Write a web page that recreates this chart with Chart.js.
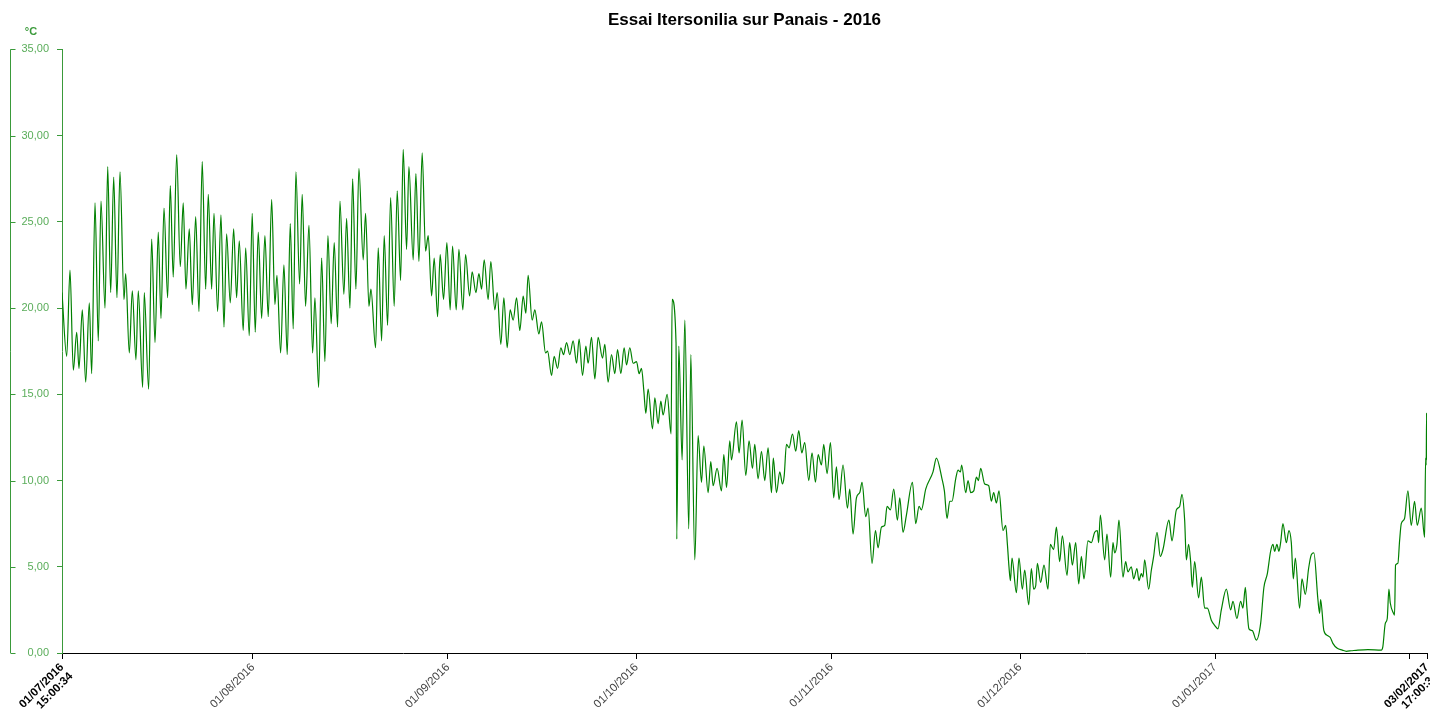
<!DOCTYPE html>
<html>
<head>
<meta charset="utf-8">
<title>Essai Itersonilia sur Panais - 2016</title>
<script src="https://cdn.jsdelivr.net/npm/chart.js@4.4.1/dist/chart.umd.min.js"></script>
<style>
    html, body { margin: 0; padding: 0; background: #fff; }
    #wrap { position: relative; width: 1430px; height: 711px; }
</style>
</head>
<body>
<div id="wrap"><canvas id="chart"></canvas></div>
<script>
var chartTitle = 'Essai Itersonilia sur Panais - 2016';
var unitLabel = '°C';

// days since 01/07/2016 15:00:34 (10 per line, same layout as temps)
var days = [
    0, 0.75, 1.27, 1.80, 2.34, 2.70, 3.23, 3.77, 4.34, 4.72,
    5.25, 5.77, 6.20, 6.84, 7.27, 7.74, 8.22, 8.74, 9.22, 9.86,
    10.13, 10.70, 11.18, 11.76, 12.13, 12.83, 13.08, 13.78, 14.26, 14.79,
    15.31, 15.74, 16.22, 16.80, 17.22, 17.69, 18.24, 18.81, 19.28, 19.71,
    20.24, 20.72, 21.26, 21.78, 22.30, 22.85, 23.26, 23.80, 24.17, 24.75,
    25.28, 25.76, 26.18, 26.76, 27.30, 27.77, 28.19, 28.82, 29.21, 29.78,
    30.25, 30.73, 31.21, 31.75, 32.27, 32.80, 33.34, 33.86, 34.18, 34.77,
    35.29, 35.82, 36.30, 36.77, 37.20, 37.79, 38.20, 38.74, 39.27, 39.86,
    40.22, 40.81, 41.29, 41.81, 42.29, 42.81, 43.29, 43.83, 44.20, 44.83,
    45.26, 45.79, 46.22, 46.74, 47.22, 47.90, 48.28, 48.81, 49.13, 49.87,
    50.29, 50.83, 51.24, 51.78, 52.26, 52.83, 53.31, 53.85, 54.26, 54.80,
    55.17, 55.85, 56.28, 56.76, 57.28, 57.82, 58.24, 58.78, 59.19, 59.73,
    60.14, 60.68, 61.21, 61.73, 62.11, 62.69, 63.12, 63.75, 64.18, 64.82,
    65.23, 65.82, 66.30, 66.73, 67.14, 67.77, 68.20, 68.84, 69.21, 69.79,
    70.27, 70.80, 71.27, 71.75, 72.29, 72.81, 73.34, 73.77, 74.13, 74.77,
    75.20, 75.83, 76.26, 76.90, 77.22, 77.85, 78.27, 78.81, 79.33, 79.76,
    80.24, 80.76, 81.29, 81.83, 82.24, 82.78, 83.31, 83.67, 84.21, 84.74,
    85.26, 85.96, 86.33, 86.85, 87.39, 87.92, 88.35, 88.87, 89.40, 89.78,
    90.30, 90.83, 91.37, 91.78, 92.16, 92.53, 92.85, 93.21, 93.91, 94.28,
    94.80, 95.23, 95.60, 96.23, 96.87, 97.03, 97.65, 97.77, 98.09, 98.62,
    99.05, 99.68, 100.00, 100.64, 101.16, 101.70, 102.07, 102.75, 103.18, 103.55,
    104.18, 104.88, 105.25, 105.68, 106.20, 106.47, 107.26, 107.68, 108.16, 108.74,
    109.27, 109.81, 110.17, 110.70, 111.24, 111.76, 112.29, 112.83, 113.12, 113.63,
    114.15, 114.58, 114.86, 115.21, 115.63, 116.17, 116.69, 117.17, 117.65, 118.12,
    118.76, 119.28, 119.83, 120.25, 120.78, 121.14, 121.67, 122.21, 122.73, 123.16,
    123.58, 124.21, 124.91, 125.28, 125.80, 126.34, 126.87, 127.23, 127.82, 128.19,
    128.82, 129.37, 129.78, 130.32, 130.84, 131.21, 131.75, 132.27, 132.86, 133.23,
    133.75, 134.29, 135.25, 135.77, 136.30, 136.68, 137.36, 138.52, 139.06, 139.95,
    140.33, 140.75, 141.18, 141.54, 142.13, 142.50, 142.88, 143.08, 143.72, 144.09,
    144.52, 145.00, 145.42, 145.74, 146.10, 146.74, 147.38, 147.80, 148.17, 148.60,
    149.01, 149.65, 150.08, 150.35, 150.60, 150.83, 151.08, 151.78, 152.19, 152.73,
    153.10, 153.74, 154.16, 154.53, 154.85, 155.12, 155.64, 156.17, 156.80, 157.18,
    157.71, 158.14, 158.66, 159.09, 159.83, 160.25, 160.68, 161.21, 161.69, 162.11,
    162.53, 163.16, 163.70, 164.23, 164.66, 164.86, 165.13, 165.82, 166.18, 166.77,
    167.14, 167.41, 167.77, 168.09, 168.73, 169.16, 169.52, 170.06, 170.43, 170.95,
    171.27, 171.65, 171.91, 172.18, 172.81, 173.24, 173.61, 174.14, 174.67, 175.09,
    176.04, 176.52, 177.22, 177.74, 178.11, 178.54, 178.81, 179.17, 179.49, 179.76,
    180.13, 180.76, 181.19, 181.72, 182.15, 182.78, 183.31, 183.83, 184.37, 185.17,
    185.85, 186.22, 186.85, 187.44, 187.81, 188.19, 188.44, 188.76, 189.30, 189.94,
    190.62, 191.14, 191.69, 192.21, 192.58, 192.85, 193.21, 193.53, 193.80, 194.17,
    194.71, 195.12, 195.50, 195.82, 196.14, 196.82, 197.19, 197.73, 198.25, 198.68,
    199.09, 199.73, 200.00, 200.16, 200.68, 201.32, 201.70, 202.11, 202.81, 203.61,
    204.24, 205.04, 206.09, 207.68, 209.81, 210.06, 210.44, 210.76, 211.02, 211.24,
    211.76, 211.92, 212.08, 212.45, 212.72, 212.99, 213.51, 214.04, 214.58, 215.10,
    215.53, 216.17, 216.70, 216.86, 216.95, 217.02, 217.08
];

// temperature (°C)
var temps = [
    20.9, 17.2, 22.2, 16.4, 18.6, 16.5, 19.9, 15.7, 20.3, 16.2,
    26.1, 18.1, 26.2, 20.0, 28.2, 20.9, 27.6, 20.6, 27.9, 20.5,
    22.0, 17.4, 21.0, 17.0, 21.0, 15.4, 20.9, 15.3, 24.0, 18.0,
    24.4, 19.4, 25.8, 20.6, 27.1, 21.8, 28.9, 22.4, 26.1, 21.1,
    24.6, 20.2, 25.3, 19.8, 28.5, 21.1, 26.6, 21.1, 25.5, 19.8,
    25.4, 18.9, 24.3, 20.3, 24.6, 20.6, 23.9, 18.7, 23.5, 18.4,
    25.5, 18.6, 24.4, 19.4, 24.2, 19.5, 26.3, 20.2, 21.9, 17.4,
    22.5, 17.3, 24.9, 18.8, 27.9, 21.4, 26.6, 20.1, 24.8, 17.4,
    20.6, 15.4, 22.9, 16.9, 24.2, 19.1, 23.8, 18.9, 26.2, 20.8,
    25.2, 20.0, 27.5, 21.1, 28.1, 22.8, 25.5, 20.1, 21.1, 17.7,
    23.5, 18.1, 24.2, 19.0, 26.4, 20.1, 26.8, 21.6, 29.2, 23.4,
    28.2, 22.8, 27.8, 22.7, 29.0, 23.3, 24.2, 20.7, 22.9, 19.5,
    23.1, 20.5, 23.8, 19.9, 23.6, 19.9, 23.4, 19.9, 23.1, 20.7,
    22.1, 20.9, 22.0, 21.1, 22.8, 20.5, 22.7, 19.9, 20.9, 17.9,
    20.6, 17.7, 19.9, 19.3, 20.6, 18.7, 20.7, 19.7, 21.9, 19.3,
    19.9, 18.5, 19.2, 17.4, 17.5, 16.1, 17.2, 16.5, 17.7, 17.3,
    18.0, 17.3, 18.1, 16.8, 18.2, 16.1, 17.8, 16.8, 18.3, 15.9,
    18.3, 17.1, 17.9, 15.7, 17.3, 16.2, 17.6, 16.2, 17.7, 16.7,
    17.7, 16.8, 16.9, 16.2, 16.5, 15.2, 13.9, 15.3, 13.0, 14.8,
    13.3, 14.6, 13.8, 15.0, 12.7, 20.5, 18.0, 6.6, 17.8, 11.2,
    19.3, 7.2, 17.3, 5.4, 12.6, 9.9, 12.0, 9.3, 11.1, 9.7,
    10.7, 9.4, 11.5, 9.6, 12.3, 11.2, 13.4, 11.6, 13.5, 10.3,
    12.3, 10.7, 12.1, 10.1, 11.7, 10.0, 11.9, 9.3, 11.3, 9.3,
    10.5, 9.8, 10.3, 12.1, 11.9, 12.7, 11.7, 12.9, 11.6, 12.2,
    10.0, 11.6, 9.9, 11.5, 10.9, 12.1, 10.4, 12.2, 9.0, 10.8,
    8.9, 10.9, 8.4, 9.5, 6.9, 9.0, 9.3, 9.9, 7.9, 8.4,
    5.2, 7.1, 6.1, 7.3, 7.4, 8.5, 8.3, 9.5, 7.7, 9.0,
    7.0, 8.0, 9.9, 7.5, 8.5, 8.3, 9.5, 10.5, 11.3, 10.1,
    9.4, 7.8, 8.8, 8.8, 10.1, 10.6, 10.5, 10.9, 9.3, 10.0,
    9.3, 9.4, 10.2, 10.0, 10.7, 9.8, 9.7, 8.8, 9.3, 8.7,
    9.4, 7.1, 7.4, 6.3, 5.0, 4.2, 5.5, 3.5, 5.5, 3.7,
    4.8, 2.8, 4.9, 3.7, 3.9, 5.2, 4.1, 5.1, 3.7, 6.3,
    6.0, 7.3, 5.3, 6.8, 4.5, 6.4, 5.1, 6.4, 4.0, 5.6,
    4.3, 6.5, 6.4, 7.0, 7.1, 6.4, 8.0, 5.4, 6.9, 4.4,
    6.4, 5.8, 6.3, 7.7, 4.4, 5.3, 4.7, 5.0, 4.3, 4.9,
    4.2, 4.6, 4.4, 5.4, 3.7, 4.8, 5.6, 7.0, 5.6, 6.0,
    7.7, 6.5, 8.3, 8.5, 9.2, 7.7, 5.4, 6.3, 5.3, 3.8,
    5.3, 3.2, 4.4, 2.6, 2.6, 1.9, 1.6, 1.4, 2.5, 3.7,
    2.5, 3.0, 2.0, 3.0, 2.6, 3.8, 2.6, 1.4, 1.3, 0.75,
    1.7, 3.8, 4.6, 5.9, 6.3, 5.9, 6.3, 5.9, 6.4, 7.5,
    6.4, 7.1, 6.4, 4.3, 5.5, 2.6, 4.3, 3.4, 4.9, 5.7,
    5.8, 3.1, 2.3, 3.1, 1.3, 1.0, 0.9, 0.56, 0.27, 0.17,
    0.1, 0.13, 0.17, 0.2, 0.17, 0.37, 1.7, 2.0, 3.7, 2.9,
    2.3, 2.2, 5.1, 5.2, 6.5, 7.5, 7.8, 9.4, 7.4, 8.8,
    7.4, 8.4, 6.7, 11.3, 10.9, 13.9, 11.2
];

// x ticks: month starts, plus first and last reading
var xTickDays = [0, 30.375, 61.375, 91.375, 122.375, 152.375, 183.375, 214.375, 217.08];
var xTickLabels = [
    ['01/07/2016', '15:00:34'], '01/08/2016', '01/09/2016', '01/10/2016', '01/11/2016',
    '01/12/2016', '01/01/2017', '', ['03/02/2017', '17:00:34']
];

var yMin = 0;
var yMax = 35;
var yStep = 5;

var fontFamily = '"Liberation Sans", Arial, sans-serif';
var lineGreen = '#008000';
var axisGreen = '#3a9a3a';
var labelGreen = '#5aad5a';

var points = days.map(function(d, i) {
    return { x: d, y: temps[i] };
});

function isEndTick(i) {
    return i === 0 || i === xTickDays.length - 1;
}

// second vertical line on the left of the y labels, ticks pointing right, and the unit
var bracketPlugin = {
    id: 'bracket',
    afterDraw: function(chart) {
        var y = chart.scales.y;
        var ctx = chart.ctx;
        var x0 = Math.round(y.left) + 0.5;
        ctx.save();
        ctx.strokeStyle = axisGreen;
        ctx.lineWidth = 1;
        ctx.beginPath();
        ctx.moveTo(x0, y.top);
        ctx.lineTo(x0, y.bottom);
        y.ticks.forEach(function(t) {
            var py = Math.round(y.getPixelForValue(t.value)) + 0.5;
            ctx.moveTo(x0, py);
            ctx.lineTo(x0 + 5, py);
        });
        ctx.stroke();
        ctx.fillStyle = axisGreen;
        ctx.font = 'bold 11px ' + fontFamily;
        ctx.textAlign = 'center';
        ctx.fillText(unitLabel, 31, 35);
        ctx.restore();
    }
};

new Chart(document.getElementById('chart'), {
    type: 'line',
    data: {
        datasets: [{
            data: points,
            borderColor: lineGreen,
            borderWidth: 1.2,
            pointRadius: 0,
            fill: false,
            cubicInterpolationMode: 'monotone'
        }]
    },
    options: {
        responsive: true,
        maintainAspectRatio: false,
        animation: false,
        layout: { padding: { left: 10, right: 3, top: 0, bottom: 0 } },
        plugins: {
            legend: { display: false },
            tooltip: { enabled: false },
            title: {
                display: true,
                text: chartTitle,
                fullSize: false,
                color: '#000',
                font: { family: fontFamily, size: 17, weight: 'bold' },
                padding: { top: 10, bottom: 19 }
            }
        },
        scales: {
            x: {
                type: 'linear',
                min: 0,
                max: 217.08,
                afterBuildTicks: function(axis) {
                    axis.ticks = xTickDays.map(function(v) { return { value: v }; });
                },
                afterFit: function(axis) {
                    axis.height = 58;
                    axis.paddingLeft = 0;
                    axis.paddingRight = 0;
                },
                border: { color: '#000', width: 1 },
                grid: { drawOnChartArea: false, drawTicks: true, tickLength: 6, color: '#000' },
                ticks: {
                    autoSkip: false,
                    maxRotation: 45,
                    minRotation: 45,
                    padding: 2,
                    callback: function(value, index) { return xTickLabels[index]; },
                    color: function(ctx) { return isEndTick(ctx.index) ? '#000' : '#444'; },
                    font: function(ctx) {
                        return { family: fontFamily, size: 11.5, weight: isEndTick(ctx.index) ? 'bold' : 'normal', lineHeight: 1.1 };
                    }
                }
            },
            y: {
                min: yMin,
                max: yMax,
                afterFit: function(axis) { axis.width = 52; },
                border: { color: axisGreen, width: 1 },
                grid: { drawOnChartArea: false, drawTicks: true, tickLength: 5, color: axisGreen },
                ticks: {
                    stepSize: yStep,
                    padding: 8,
                    color: labelGreen,
                    font: { family: fontFamily, size: 11 },
                    callback: function(v) { return v.toFixed(2).replace('.', ','); }
                }
            }
        }
    },
    plugins: [bracketPlugin]
});
</script>
</body>
</html>
